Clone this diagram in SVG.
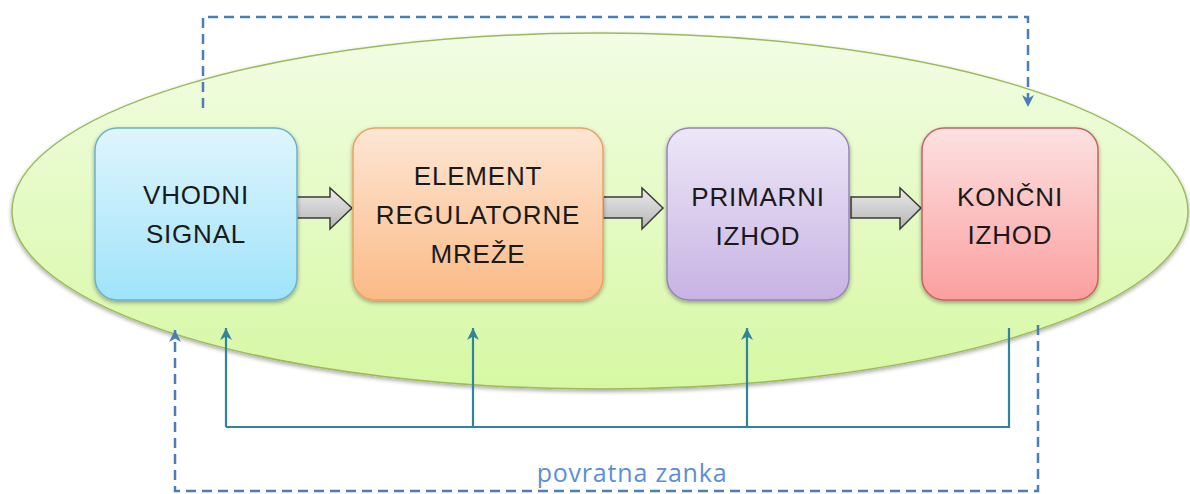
<svg xmlns="http://www.w3.org/2000/svg" width="1190" height="494" viewBox="0 0 1190 494">
<style>
.lbl{font-family:"Liberation Sans",Arial,sans-serif;font-size:26px;letter-spacing:0.8px;fill:#1a1a1a;text-anchor:middle}
.teal{stroke:#31849b;stroke-width:2.2;fill:none}
.dash{stroke:#4a7ebb;stroke-width:2.5;fill:none;stroke-dasharray:10 6}
.blk{fill:url(#gGray);stroke:#3a3a3a;stroke-width:1.5}
</style>
<defs>
<linearGradient id="gEll" x1="0" y1="0" x2="0" y2="1"><stop offset="0" stop-color="#f2fde4"/><stop offset="1" stop-color="#d6f8a3"/></linearGradient>
<linearGradient id="gBlue" x1="0" y1="0" x2="0" y2="1"><stop offset="0" stop-color="#e0f5fd"/><stop offset="1" stop-color="#9fe3fa"/></linearGradient>
<linearGradient id="gOr" x1="0" y1="0" x2="0" y2="1"><stop offset="0" stop-color="#fde6d4"/><stop offset="1" stop-color="#fbba86"/></linearGradient>
<linearGradient id="gPur" x1="0" y1="0" x2="0" y2="1"><stop offset="0" stop-color="#ede7f7"/><stop offset="1" stop-color="#c7b3e3"/></linearGradient>
<linearGradient id="gRed" x1="0" y1="0" x2="0" y2="1"><stop offset="0" stop-color="#fde1e1"/><stop offset="1" stop-color="#fb9f9f"/></linearGradient>
<linearGradient id="gGray" x1="0" y1="0" x2="0" y2="1"><stop offset="0" stop-color="#ececec"/><stop offset="1" stop-color="#b4b4b4"/></linearGradient>
<filter id="sh" x="-10%" y="-10%" width="120%" height="130%"><feGaussianBlur in="SourceAlpha" stdDeviation="2"/><feOffset dx="0" dy="2" result="b"/><feComponentTransfer><feFuncA type="linear" slope="0.35"/></feComponentTransfer><feMerge><feMergeNode/><feMergeNode in="SourceGraphic"/></feMerge></filter>
<marker id="aTeal" markerWidth="12" markerHeight="12" refX="10" refY="5" orient="auto" markerUnits="userSpaceOnUse" viewBox="0 0 10 10"><path d="M0,0 L10,5 L0,10 L3,5 Z" fill="#31849b"/></marker>
<marker id="aBlue" markerWidth="12" markerHeight="12" refX="10" refY="5" orient="auto" markerUnits="userSpaceOnUse" viewBox="0 0 10 10"><path d="M0,0 L10,5 L0,10 L3,5 Z" fill="#4a7ebb"/></marker>
</defs>
<g id="ellipse"><ellipse cx="600" cy="211" rx="588" ry="178" fill="url(#gEll)" stroke="#9bbb59" stroke-width="1.5" filter="url(#sh)"/></g>
<g id="connectors">
<path class="dash" d="M203,108 V17 H1028 V107" marker-end="url(#aBlue)"/>
<path class="dash" d="M1038,325 V491 H175 V330" marker-end="url(#aBlue)"/>
<path class="teal" d="M1009,328 V427 H226"/>
<path class="teal" d="M226,427 V328" marker-end="url(#aTeal)"/>
<path class="teal" d="M473,427 V328" marker-end="url(#aTeal)"/>
<path class="teal" d="M747,427 V328" marker-end="url(#aTeal)"/>
<path class="blk" d="M296,197 H330 V188 L352,208 L330,229 V218 H296 Z"/>
<path class="blk" d="M603,197 H642 V188 L663,208 L642,229 V218 H603 Z"/>
<path class="blk" d="M851,197 H900 V188 L921,208 L900,229 V218 H851 Z"/>
</g>
<g id="vhodni"><rect x="95" y="128" width="202" height="172" rx="22" fill="url(#gBlue)" stroke="#68b3cb" stroke-width="1.5" filter="url(#sh)"/><text class="lbl" x="196" y="204">VHODNI</text><text class="lbl" x="196" y="243">SIGNAL</text></g>
<g id="element"><rect x="353" y="128" width="250" height="172" rx="22" fill="url(#gOr)" stroke="#eea060" stroke-width="1.5" filter="url(#sh)"/><text class="lbl" x="478" y="185">ELEMENT</text><text class="lbl" x="478" y="224">REGULATORNE</text><text class="lbl" x="478" y="263">MREŽE</text></g>
<g id="primarni"><rect x="667" y="128" width="182" height="172" rx="22" fill="url(#gPur)" stroke="#9884bb" stroke-width="1.5" filter="url(#sh)"/><text class="lbl" x="758" y="206">PRIMARNI</text><text class="lbl" x="758" y="245">IZHOD</text></g>
<g id="koncni"><rect x="922" y="128" width="176" height="172" rx="22" fill="url(#gRed)" stroke="#c86262" stroke-width="1.5" filter="url(#sh)"/><text class="lbl" x="1010" y="206">KONČNI</text><text class="lbl" x="1010" y="244">IZHOD</text></g>
<g id="label"><text x="632" y="482" style="font-family:'Open Sans','Liberation Sans',sans-serif;font-size:25px;letter-spacing:0.8px;fill:#5b8fd6;text-anchor:middle">povratna zanka</text></g>
</svg>
